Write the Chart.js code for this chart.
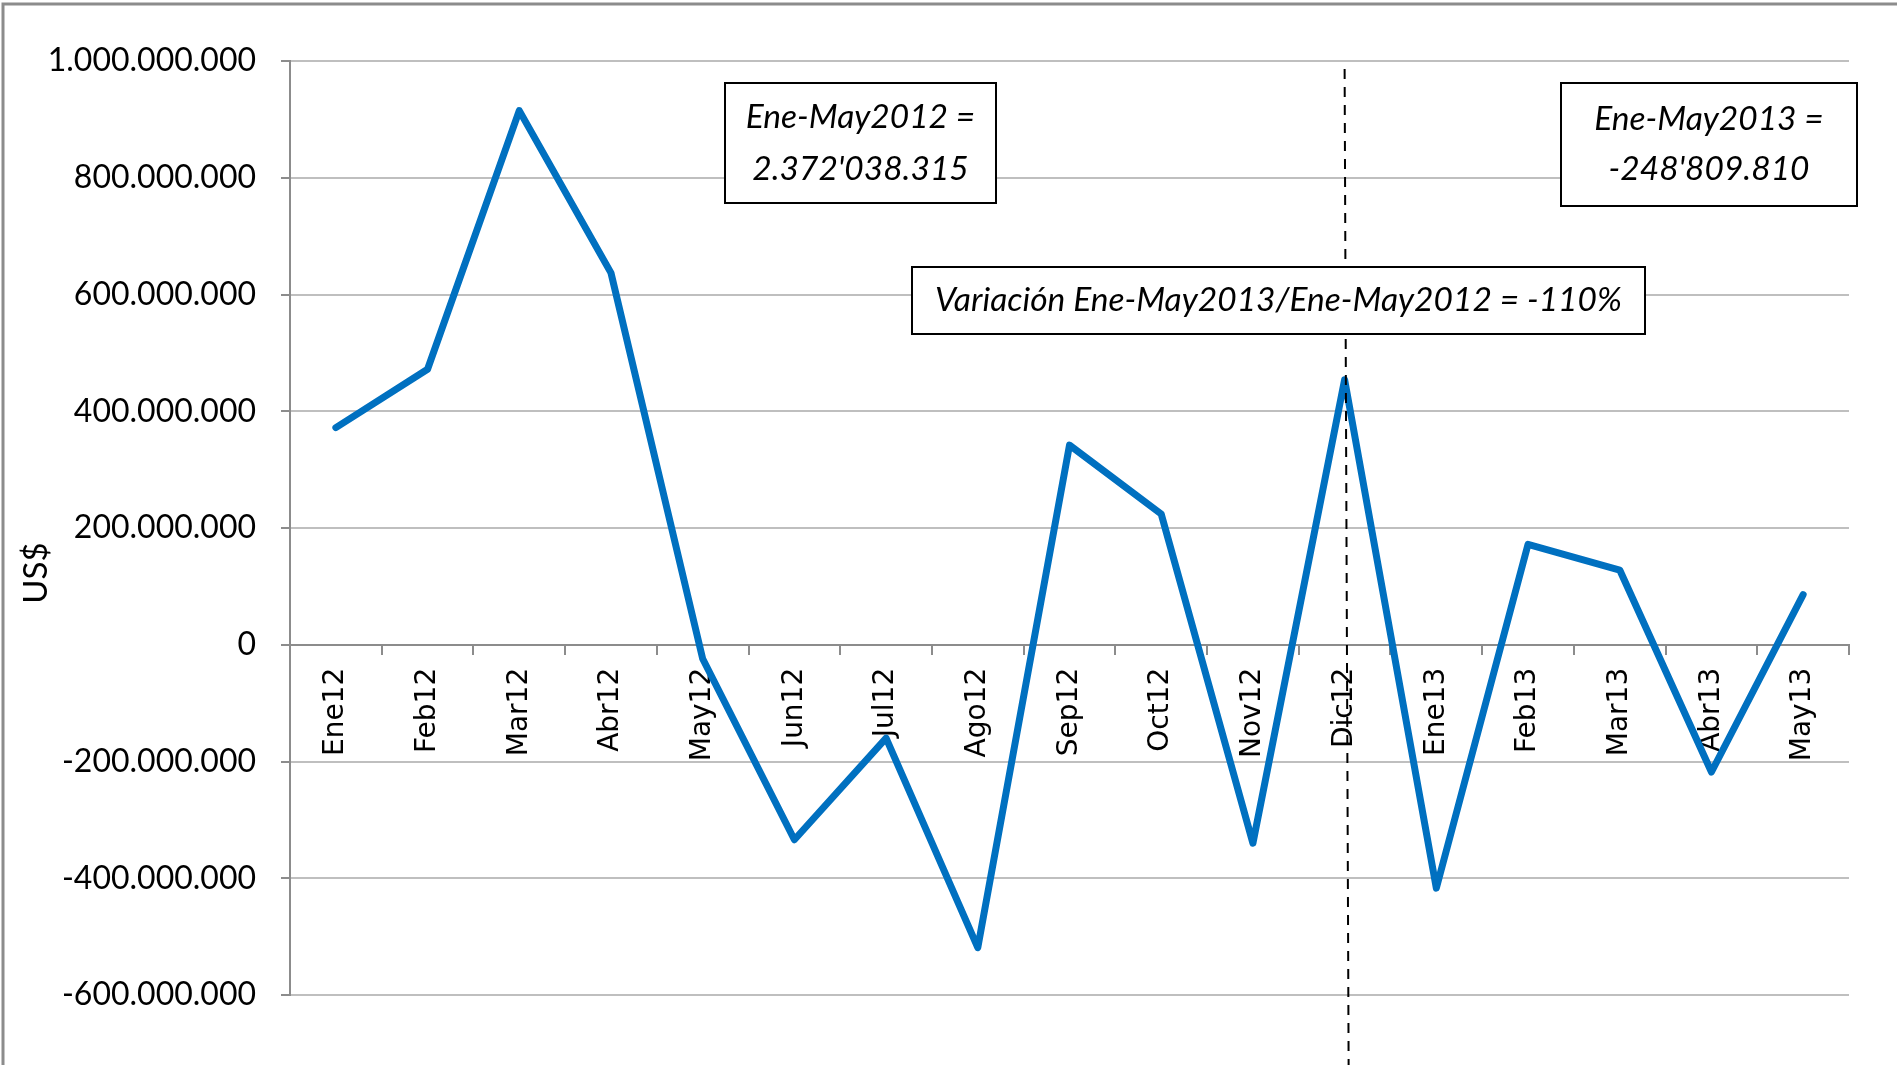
<!DOCTYPE html>
<html>
<head>
<meta charset="utf-8">
<script src="https://cdn.jsdelivr.net/npm/chart.js@4.4.0/dist/chart.umd.min.js"></script>
<style>
  body { margin: 0; background: #fff; }
  #wrap { width: 1897px; height: 1065px; }
</style>
</head>
<body>
<div id="wrap"><canvas id="chart" width="1897" height="1065"></canvas></div>
<script>
// monthly values, US$
var months = ['Ene12', 'Feb12', 'Mar12', 'Abr12', 'May12', 'Jun12', 'Jul12', 'Ago12', 'Sep12',
  'Oct12', 'Nov12', 'Dic12', 'Ene13', 'Feb13', 'Mar13', 'Abr13', 'May13'];
var balance = [372000000, 472000000, 915000000, 637000000, -24000000, -334000000, -160000000,
  -519000000, 342000000, 224000000, -340000000, 454000000, -417000000, 172000000, 128000000,
  -218000000, 86000000];
var yTicks = [-600000000, -400000000, -200000000, 0, 200000000, 400000000, 600000000, 800000000, 1000000000];
var yTitle = 'US$';
var splitMonth = 'Dic12';
var note2012 = ['Ene-May2012 =', "2.372'038.315"];
var note2013 = ['Ene-May2013 =', "-248'809.810"];
var noteVariation = ['Variación Ene-May2013/Ene-May2012 = -110%'];

var boxFont = 'italic 33.5px Lato';

function formatNumber(v) {
  var s = Math.abs(v).toString().replace(/\B(?=(\d{3})+(?!\d))/g, '.');
  return (v < 0 ? '-' : '') + s;
}

function drawBox(ctx, x, y, w, h, lines, lineYs) {
  ctx.save();
  ctx.fillStyle = '#fff';
  ctx.fillRect(x, y, w, h);
  ctx.strokeStyle = '#000';
  ctx.lineWidth = 2;
  ctx.strokeRect(x, y, w, h);
  ctx.fillStyle = '#000';
  ctx.font = boxFont;
  ctx.textAlign = 'center';
  ctx.textBaseline = 'middle';
  for (var i = 0; i < lines.length; i++) {
    ctx.fillText(lines[i], x + w / 2, lineYs[i]);
  }
  ctx.restore();
}

var extras = {
  id: 'extras',
  beforeDraw: function (chart) {
    var ctx = chart.ctx;
    ctx.save();
    ctx.strokeStyle = '#8c8c8c';
    ctx.lineWidth = 3;
    ctx.beginPath();
    ctx.moveTo(3, 1065);
    ctx.lineTo(3, 4);
    ctx.lineTo(1897, 4);
    ctx.stroke();
    ctx.restore();
  },
  afterDatasetsDraw: function (chart) {
    var ctx = chart.ctx;
    var x = chart.scales.x.getPixelForValue(months.indexOf(splitMonth));
    ctx.save();
    ctx.strokeStyle = '#000';
    ctx.lineWidth = 2;
    ctx.setLineDash([10, 8]);
    ctx.beginPath();
    ctx.moveTo(x, 69);
    ctx.lineTo(x + 4, 1065);
    ctx.stroke();
    ctx.restore();
  },
  afterDraw: function (chart) {
    var ctx = chart.ctx;
    drawBox(ctx, 725, 83, 271, 120, note2012, [117, 169]);
    drawBox(ctx, 1561, 83, 296, 123, note2013, [119, 169]);
    drawBox(ctx, 912, 267, 733, 67, noteVariation, [300]);

    // axis title
    ctx.save();
    ctx.translate(36, 573);
    ctx.rotate(-Math.PI / 2);
    ctx.font = '33px Lato';
    ctx.fillStyle = '#000';
    ctx.textAlign = 'center';
    ctx.textBaseline = 'middle';
    ctx.fillText(yTitle, 0, 0);
    ctx.restore();
  }
};

var ctx = document.getElementById('chart').getContext('2d');
var chart = new Chart(ctx, {
  type: 'line',
  data: {
    labels: months,
    datasets: [{
      data: balance,
      borderColor: '#0070c0',
      borderWidth: 7,
      pointRadius: 0,
      tension: 0,
      borderJoinStyle: 'round',
      borderCapStyle: 'round',
      fill: false
    }]
  },
  options: {
    responsive: false,
    animation: false,
    events: [],
    layout: { padding: { top: 61, right: 48, bottom: 70, left: 0 } },
    plugins: {
      legend: { display: false },
      tooltip: { enabled: false }
    },
    scales: {
      x: {
        type: 'category',
        position: { y: 0 },
        offset: true,
        grid: {
          display: true,
          drawOnChartArea: false,
          drawTicks: true,
          tickLength: 9,
          color: '#8c8c8c',
          lineWidth: 2,
          offset: true
        },
        border: { display: true, color: '#8c8c8c', width: 2 },
        ticks: {
          autoSkip: false,
          minRotation: 90,
          maxRotation: 90,
          padding: 14,
          color: '#000',
          font: { family: 'DejaVu Sans', size: 28 }
        }
      },
      y: {
        min: -600000000,
        max: 1000000000,
        afterBuildTicks: function (scale) {
          scale.ticks = yTicks.map(function (v) { return { value: v }; });
        },
        afterFit: function (scale) {
          scale.width = 290;
        },
        grid: {
          color: '#bfbfbf',
          lineWidth: 2,
          drawTicks: true,
          tickLength: 9,
          tickColor: '#8c8c8c'
        },
        border: { display: true, color: '#8c8c8c', width: 2 },
        ticks: {
          padding: 25,
          color: '#000',
          font: { family: 'Lato', size: 32 },
          callback: function (v) { return formatNumber(v); }
        }
      }
    }
  },
  plugins: [extras]
});
</script>
</body>
</html>
